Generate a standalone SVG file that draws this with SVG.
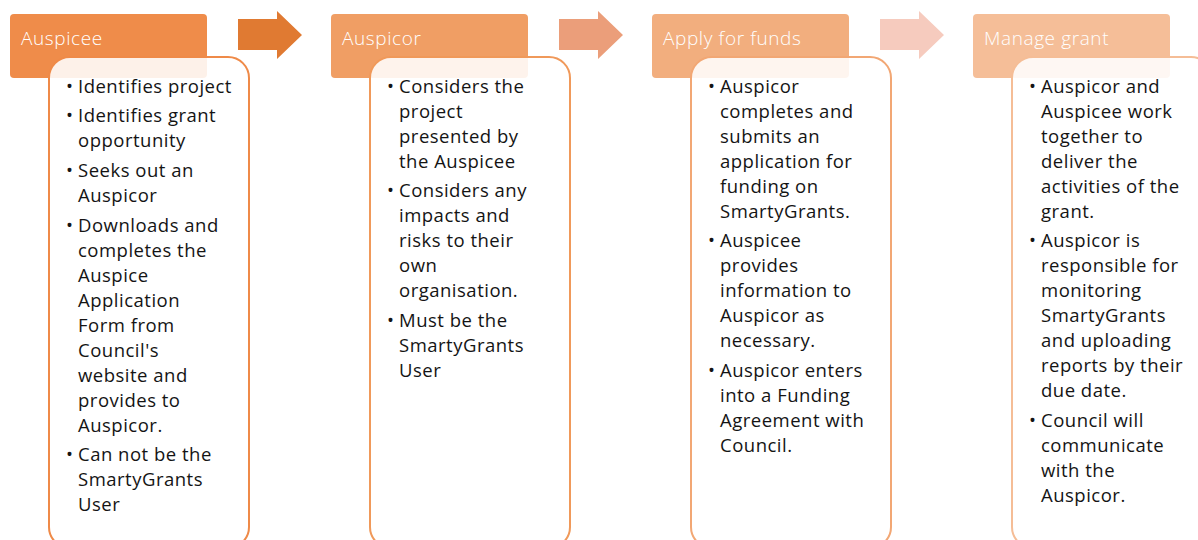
<svg xmlns="http://www.w3.org/2000/svg" width="1198" height="540" viewBox="0 0 1198 540">
<defs>
<style>
.hdr{font-family:"Open Sans","Noto Sans",sans-serif;font-size:19px;font-weight:300;fill:#ffffff;letter-spacing:0.6px}
.body{fill:#ffffff;fill-opacity:0.88;stroke-width:2}
.t{font-family:"Open Sans","Noto Sans",sans-serif;font-size:18.5px;fill:#141414;letter-spacing:0.5px}
</style>
</defs>
<g id="connectors">
<polygon points="238,19 277,19 277,11 302,35 277,59 277,50 238,50" fill="#E07A32"/>
<polygon points="559,19 598,19 598,11 623,35 598,59 598,50 559,50" fill="#EB9E7A"/>
<polygon points="880,19 919,19 919,11 944,35 919,59 919,50 880,50" fill="#F6CBBE"/>
</g>
<g id="node-auspicee">
<rect x="10" y="14" width="197" height="64" rx="4" fill="#EF8C4A"/>
<text class="hdr" x="21" y="44.5">Auspicee</text>
<rect class="body" x="49" y="57" width="200" height="491" rx="21" stroke="#EF8A48"/>
<text class="t">
<tspan x="66" y="92.5">•</tspan><tspan x="78" y="92.5">Identifies project</tspan>
<tspan x="66" y="122.2">•</tspan><tspan x="78" y="122.2">Identifies grant</tspan>
<tspan x="78" y="147.2">opportunity</tspan>
<tspan x="66" y="176.9">•</tspan><tspan x="78" y="176.9">Seeks out an</tspan>
<tspan x="78" y="201.9">Auspicor</tspan>
<tspan x="66" y="231.6">•</tspan><tspan x="78" y="231.6">Downloads and</tspan>
<tspan x="78" y="256.6">completes the</tspan>
<tspan x="78" y="281.6">Auspice</tspan>
<tspan x="78" y="306.6">Application</tspan>
<tspan x="78" y="331.6">Form from</tspan>
<tspan x="78" y="356.6">Council's</tspan>
<tspan x="78" y="381.6">website and</tspan>
<tspan x="78" y="406.6">provides to</tspan>
<tspan x="78" y="431.6">Auspicor.</tspan>
<tspan x="66" y="461.3">•</tspan><tspan x="78" y="461.3">Can not be the</tspan>
<tspan x="78" y="486.3">SmartyGrants</tspan>
<tspan x="78" y="511.3">User</tspan>
</text>
</g>
<g id="node-auspicor">
<rect x="331" y="14" width="197" height="64" rx="4" fill="#F09E64"/>
<text class="hdr" x="342" y="44.5">Auspicor</text>
<rect class="body" x="370" y="57" width="200" height="491" rx="21" stroke="#F0995A"/>
<text class="t">
<tspan x="387" y="92.5">•</tspan><tspan x="399" y="92.5">Considers the</tspan>
<tspan x="399" y="117.5">project</tspan>
<tspan x="399" y="142.5">presented by</tspan>
<tspan x="399" y="167.5">the Auspicee</tspan>
<tspan x="387" y="197.2">•</tspan><tspan x="399" y="197.2">Considers any</tspan>
<tspan x="399" y="222.2">impacts and</tspan>
<tspan x="399" y="247.2">risks to their</tspan>
<tspan x="399" y="272.2">own</tspan>
<tspan x="399" y="297.2">organisation.</tspan>
<tspan x="387" y="326.9">•</tspan><tspan x="399" y="326.9">Must be the</tspan>
<tspan x="399" y="351.9">SmartyGrants</tspan>
<tspan x="399" y="376.9">User</tspan>
</text>
</g>
<g id="node-apply">
<rect x="652" y="14" width="197" height="64" rx="4" fill="#F2AE7E"/>
<text class="hdr" x="663" y="44.5">Apply for funds</text>
<rect class="body" x="691" y="57" width="200" height="491" rx="21" stroke="#F2A774"/>
<text class="t">
<tspan x="708" y="92.5">•</tspan><tspan x="720" y="92.5">Auspicor</tspan>
<tspan x="720" y="117.5">completes and</tspan>
<tspan x="720" y="142.5">submits an</tspan>
<tspan x="720" y="167.5">application for</tspan>
<tspan x="720" y="192.5">funding on</tspan>
<tspan x="720" y="217.5">SmartyGrants.</tspan>
<tspan x="708" y="247.2">•</tspan><tspan x="720" y="247.2">Auspicee</tspan>
<tspan x="720" y="272.2">provides</tspan>
<tspan x="720" y="297.2">information to</tspan>
<tspan x="720" y="322.2">Auspicor as</tspan>
<tspan x="720" y="347.2">necessary.</tspan>
<tspan x="708" y="376.9">•</tspan><tspan x="720" y="376.9">Auspicor enters</tspan>
<tspan x="720" y="401.9">into a Funding</tspan>
<tspan x="720" y="426.9">Agreement with</tspan>
<tspan x="720" y="451.9">Council.</tspan>
</text>
</g>
<g id="node-manage">
<rect x="973" y="14" width="197" height="64" rx="4" fill="#F5BE98"/>
<text class="hdr" x="984" y="44.5">Manage grant</text>
<rect class="body" x="1012" y="57" width="200" height="491" rx="21" stroke="#F5BD96"/>
<text class="t">
<tspan x="1029" y="92.5">•</tspan><tspan x="1041" y="92.5">Auspicor and</tspan>
<tspan x="1041" y="117.5">Auspicee work</tspan>
<tspan x="1041" y="142.5">together to</tspan>
<tspan x="1041" y="167.5">deliver the</tspan>
<tspan x="1041" y="192.5">activities of the</tspan>
<tspan x="1041" y="217.5">grant.</tspan>
<tspan x="1029" y="247.2">•</tspan><tspan x="1041" y="247.2">Auspicor is</tspan>
<tspan x="1041" y="272.2">responsible for</tspan>
<tspan x="1041" y="297.2">monitoring</tspan>
<tspan x="1041" y="322.2">SmartyGrants</tspan>
<tspan x="1041" y="347.2">and uploading</tspan>
<tspan x="1041" y="372.2">reports by their</tspan>
<tspan x="1041" y="397.2">due date.</tspan>
<tspan x="1029" y="426.9">•</tspan><tspan x="1041" y="426.9">Council will</tspan>
<tspan x="1041" y="451.9">communicate</tspan>
<tspan x="1041" y="476.9">with the</tspan>
<tspan x="1041" y="501.9">Auspicor.</tspan>
</text>
</g>
</svg>
